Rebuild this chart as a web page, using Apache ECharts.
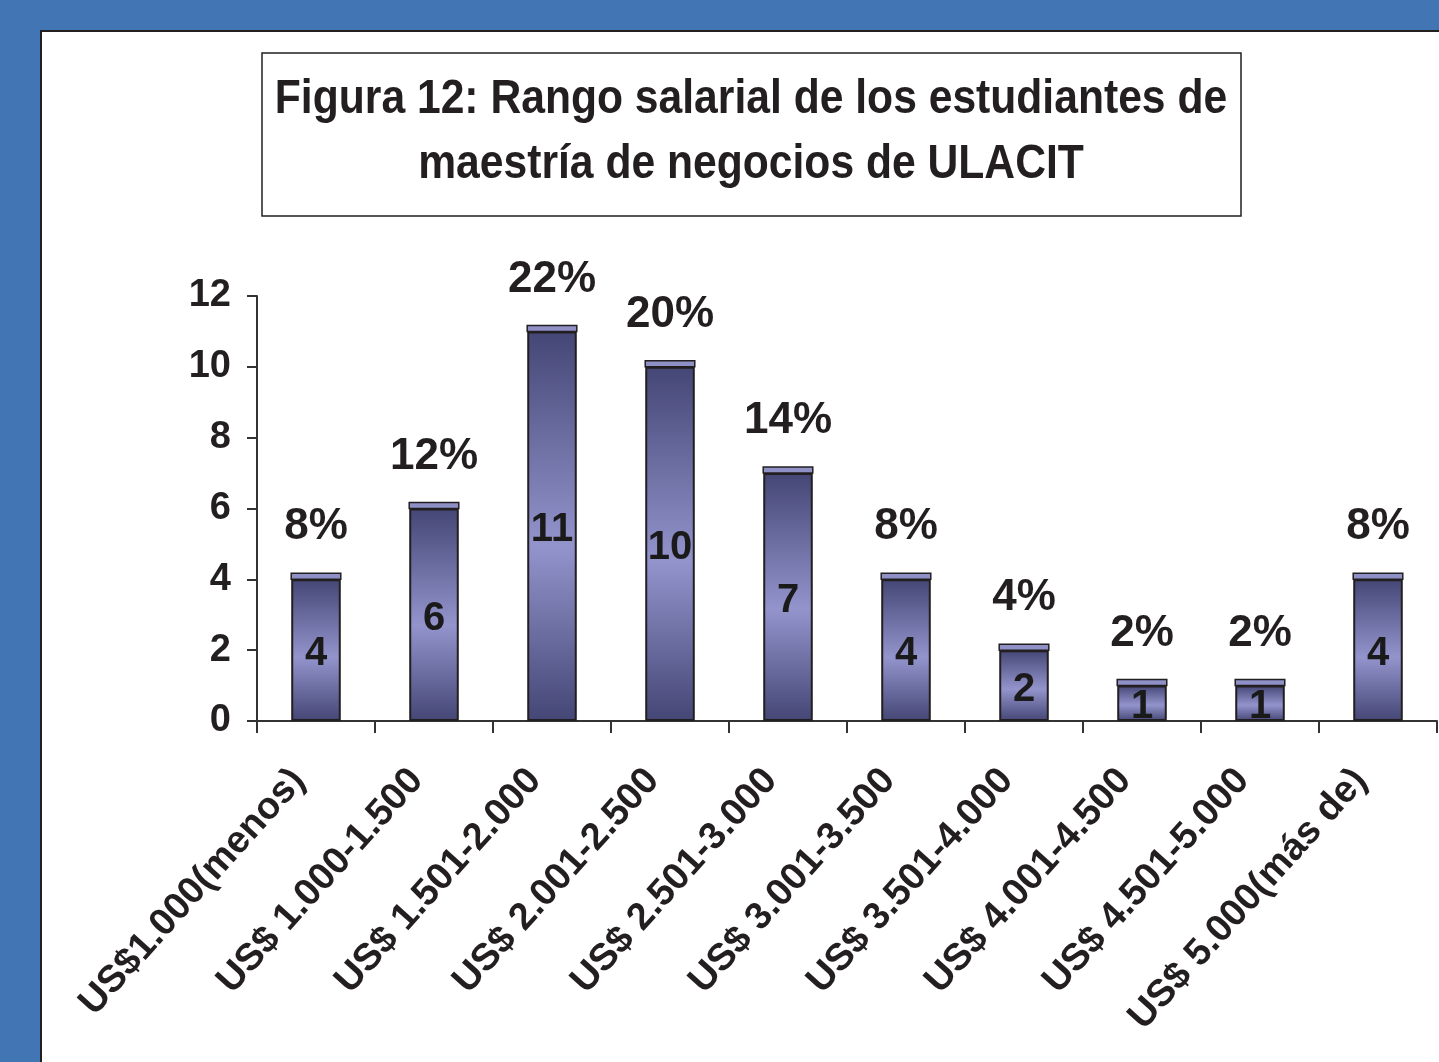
<!DOCTYPE html>
<html>
<head>
<meta charset="utf-8">
<title>Figura 12</title>
<script src="https://cdn.jsdelivr.net/npm/echarts@6/dist/echarts.min.js"></script>
<style>
  html, body { margin: 0; padding: 0; background: #4275b3; }
  #chart { width: 1439px; height: 1062px; }
</style>
</head>
<body>
<div id="chart"></div>
<script>
// rangos salariales
const categorias = [
  "US$1.000(menos)",
  "US$ 1.000-1.500",
  "US$ 1.501-2.000",
  "US$ 2.001-2.500",
  "US$ 2.501-3.000",
  "US$ 3.001-3.500",
  "US$ 3.501-4.000",
  "US$ 4.001-4.500",
  "US$ 4.501-5.000",
  "US$ 5.000(más de)",
];
const estudiantes = [4, 6, 11, 10, 7, 4, 2, 1, 1, 4];
const porcentajes = [8, 12, 22, 20, 14, 8, 4, 2, 2, 8];
const ticksY = [0, 2, 4, 6, 8, 10, 12];

const fuente = "'Liberation Sans', Arial, sans-serif";
const barra = 0.42;

const chart = echarts.init(document.getElementById("chart"));

// titulo en dos lineas, algo condensado
const lineaTitulo = (texto, y) => ({
  type: "text",
  x: 751,
  y: y,
  scaleX: 0.87,
  style: {
    x: 0,
    y: 0,
    text: texto,
    align: "center",
    verticalAlign: "middle",
    font: "bold 49px " + fuente,
    fill: "#231f20",
  },
});

const option = {
  backgroundColor: "#4275b3",
  animation: false,
  textStyle: { fontFamily: fuente },
  graphic: [
    // panel blanco
    {
      type: "rect",
      z: -10,
      shape: { x: 41, y: 31, width: 1420, height: 1060 },
      style: { fill: "#fff", stroke: "#231f20", lineWidth: 2 },
    },
    // recuadro del titulo
    {
      type: "rect",
      shape: { x: 262, y: 53, width: 979, height: 163 },
      style: { fill: "#fff", stroke: "#231f20", lineWidth: 1.5 },
    },
    lineaTitulo("Figura 12: Rango salarial de los estudiantes de", 99),
    lineaTitulo("maestría de negocios de ULACIT", 164),
  ],
  grid: { left: 257, right: 2, top: 296, bottom: 341 },
  xAxis: {
    type: "category",
    data: categorias,
    axisLine: { lineStyle: { color: "#333", width: 2 } },
    axisTick: { show: true, length: 12, lineStyle: { color: "#333", width: 2 } },
    axisLabel: {
      interval: 0,
      rotate: 48,
      margin: 34,
      padding: [0, 26, 0, 0],
      color: "#231f20",
      fontWeight: "bold",
      fontSize: 38,
      fontFamily: fuente,
    },
  },
  yAxis: {
    type: "value",
    min: 0,
    max: 12,
    interval: 2,
    splitLine: { show: false },
    axisLine: { show: true, lineStyle: { color: "#333", width: 2 } },
    axisTick: { show: true, length: 10, lineStyle: { color: "#333", width: 2 } },
    axisLabel: {
      margin: 26,
      color: "#231f20",
      fontWeight: "bold",
      fontSize: 38,
      fontFamily: fuente,
      formatter: (v) => (ticksY.includes(v) ? String(v) : ""),
    },
  },
  series: [
    {
      type: "bar",
      data: estudiantes,
      barWidth: barra * 100 + "%",
      itemStyle: {
        borderColor: "#231f20",
        borderWidth: 2,
        color: {
          type: "linear",
          x: 0, y: 0, x2: 0, y2: 1,
          colorStops: [
            { offset: 0, color: "#444675" },
            { offset: 0.55, color: "#9394cc" },
            { offset: 1, color: "#444675" },
          ],
        },
      },
      label: {
        show: true,
        position: "inside",
        color: "#1a1a1a",
        fontWeight: "bold",
        fontSize: 40,
        fontFamily: fuente,
        offset: [0, 4],
      },
    },
    {
      // tapa superior + porcentaje
      type: "custom",
      data: estudiantes.map((v, i) => [i, v]),
      z: 5,
      renderItem: (params, api) => {
        const i = api.value(0);
        const p = api.coord([i, api.value(1)]);
        const w = api.size([1, 0])[0] * barra;
        return {
          type: "group",
          children: [
            {
              type: "rect",
              shape: { x: p[0] - w / 2, y: p[1] - 6, width: w, height: 6 },
              style: { fill: "#8e90c6", stroke: "#231f20", lineWidth: 1.5 },
            },
            {
              type: "text",
              style: {
                x: p[0],
                y: p[1] - 52,
                text: porcentajes[i] + "%",
                align: "center",
                verticalAlign: "middle",
                font: "bold 44px " + fuente,
                fill: "#231f20",
              },
            },
          ],
        };
      },
    },
  ],
};

chart.setOption(option);
</script>
</body>
</html>
